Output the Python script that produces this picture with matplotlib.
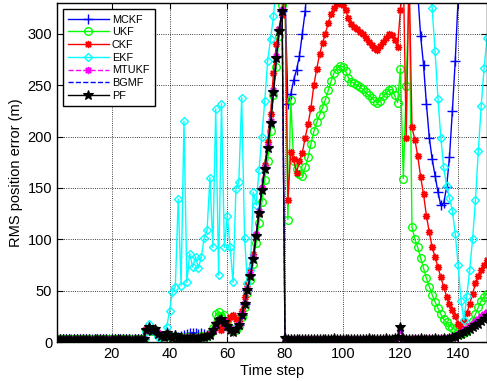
import matplotlib
matplotlib.use("Agg")
import matplotlib.pyplot as plt
import numpy as np

plt.rcParams['font.family'] = ['Liberation Sans', 'DejaVu Sans']

t = np.arange(1, 151)

mckf = [2.7, 2.9, 2.6, 3.0, 2.8, 2.5, 3.1, 2.7, 2.9, 2.6,
        3.0, 2.8, 2.6, 2.9, 2.7, 3.1, 2.5, 2.8, 3.0, 2.7,
        2.9, 2.6, 3.0, 2.8, 2.7, 2.9, 2.6, 3.0, 2.8, 2.7,
        3.0, 12.5, 14.0, 11.5, 12.0, 8.5, 6.0, 5.0, 9.5, 6.0,
        5.0, 7.0, 5.0, 6.0, 6.5, 8.0, 8.5, 9.0, 8.5, 8.0,
        8.5, 7.5, 7.0, 8.0, 12.0, 19.0, 22.0, 22.0, 19.0, 16.0,
        12.0, 10.5, 12.5, 17.0, 26.0, 37.0, 51.0, 65.0, 82.0, 104.0,
        127.0, 149.0, 169.0, 190.0, 214.0, 244.0, 277.0, 304.0, 322.0, 340.0,
        232.0, 241.0, 255.0, 265.0, 278.0, 300.0, 322.0, 360.0, 400.0, 430.0,
        450.0, 470.0, 480.0, 490.0, 500.0, 505.0, 510.0, 510.0, 505.0, 500.0,
        495.0, 490.0, 485.0, 480.0, 475.0, 470.0, 465.0, 460.0, 455.0, 450.0,
        445.0, 440.0, 435.0, 430.0, 425.0, 420.0, 415.0, 410.0, 405.0, 400.0,
        395.0, 390.0, 385.0, 375.0, 360.0, 340.0, 298.0, 270.0, 232.0, 199.0,
        178.0, 162.0, 146.0, 133.0, 135.0, 151.0, 180.0, 225.0, 274.0, 335.0,
        390.0, 440.0, 480.0, 510.0, 530.0, 540.0, 550.0, 560.0, 570.0, 580.0]

ukf = [2.6, 2.8, 3.0, 2.7, 2.9, 2.6, 2.8, 3.0, 2.7, 2.9,
       2.8, 2.6, 3.0, 2.7, 2.9, 2.8, 2.6, 3.0, 2.7, 2.8,
       2.9, 2.7, 2.6, 3.0, 2.8, 2.7, 2.9, 2.6, 3.0, 2.8,
       3.0, 12.0, 13.0, 11.0, 12.0, 8.0, 6.0, 5.0, 8.0, 5.5,
       4.5, 6.0, 4.0, 4.5, 3.5, 4.5, 3.5, 4.0, 4.0, 4.5,
       5.5, 5.0, 6.0, 8.0, 14.0, 27.0, 29.0, 25.0, 26.0, 20.0,
       14.0, 11.0, 12.0, 16.0, 24.0, 34.0, 48.0, 60.0, 76.0, 96.0,
       116.0, 136.0, 158.0, 176.0, 205.0, 240.0, 268.0, 298.0, 328.0, 345.0,
       119.0, 236.0, 176.0, 168.0, 164.0, 162.0, 170.0, 180.0, 193.0, 205.0,
       214.0, 221.0, 228.0, 236.0, 245.0, 254.0, 262.0, 266.0, 269.0, 268.0,
       264.0, 257.0, 253.0, 252.0, 250.0, 248.0, 246.0, 243.0, 240.0, 238.0,
       235.0, 233.0, 235.0, 239.0, 242.0, 245.0, 246.0, 240.0, 233.0, 266.0,
       159.0, 249.0, 350.0, 112.0, 100.0, 92.0, 82.0, 72.0, 62.0, 54.0,
       46.0, 39.0, 33.0, 27.0, 22.0, 19.0, 16.0, 14.0, 12.0, 10.0,
       8.0, 8.5, 11.0, 15.0, 20.0, 27.0, 34.0, 40.0, 44.0, 47.0]

ckf = [2.8, 2.6, 2.9, 3.0, 2.7, 2.8, 2.6, 2.9, 3.0, 2.7,
       2.6, 2.9, 2.8, 3.0, 2.6, 2.7, 2.9, 2.8, 2.6, 3.0,
       2.7, 2.8, 2.9, 2.6, 3.0, 2.8, 2.7, 2.9, 2.6, 2.8,
       3.2, 12.5, 14.0, 12.0, 12.5, 8.5, 6.5, 5.0, 9.0, 6.0,
       4.5, 6.0, 4.0, 4.5, 3.5, 4.5, 3.5, 4.5, 4.0, 4.5,
       5.0, 5.5, 6.5, 8.0, 12.0, 18.0, 20.0, 12.0, 16.0, 20.0,
       24.0, 26.0, 22.0, 20.0, 30.0, 44.0, 56.0, 70.0, 86.0, 104.0,
       126.0, 150.0, 172.0, 195.0, 222.0, 262.0, 290.0, 305.0, 318.0, 345.0,
       138.0, 185.0, 178.0, 165.0, 176.0, 184.0, 199.0, 212.0, 228.0, 250.0,
       266.0, 280.0, 291.0, 300.0, 311.0, 319.0, 325.0, 329.0, 330.0, 328.0,
       323.0, 315.0, 310.0, 307.0, 305.0, 302.0, 300.0, 296.0, 292.0, 289.0,
       286.0, 284.0, 288.0, 292.0, 296.0, 300.0, 299.0, 294.0, 287.0, 323.0,
       360.0, 199.0, 360.0, 209.0, 197.0, 181.0, 161.0, 144.0, 123.0, 107.0,
       92.0, 83.0, 73.0, 63.0, 54.0, 44.0, 37.0, 31.0, 25.0, 18.0,
       14.0, 20.0, 28.0, 37.0, 47.0, 57.0, 64.0, 70.0, 75.0, 80.0]

ekf = [2.2, 2.0, 2.4, 2.1, 2.3, 2.0, 2.2, 2.4, 2.1, 2.3,
       2.0, 2.2, 2.4, 2.1, 2.3, 2.2, 2.0, 2.4, 2.1, 2.2,
       2.3, 2.1, 2.0, 2.4, 2.2, 2.1, 2.3, 2.0, 2.4, 2.2,
       3.0, 10.0, 18.0, 12.0, 10.0, 5.0, 4.0, 6.0, 15.0, 30.0,
       49.0, 54.0, 139.0, 55.0, 215.0, 58.0, 86.0, 73.0, 83.0, 72.0,
       83.0, 101.0, 109.0, 160.0, 92.0, 227.0, 65.0, 232.0, 92.0, 123.0,
       92.0, 58.0, 149.0, 156.0, 238.0, 101.0, 57.0, 70.0, 146.0, 133.0,
       167.0, 200.0, 235.0, 274.0, 295.0, 317.0, 350.0, 400.0, 450.0, 500.0,
       520.0, 540.0, 550.0, 560.0, 570.0, 580.0, 590.0, 600.0, 600.0, 600.0,
       600.0, 600.0, 600.0, 600.0, 600.0, 600.0, 600.0, 600.0, 600.0, 600.0,
       600.0, 600.0, 600.0, 600.0, 600.0, 600.0, 600.0, 600.0, 600.0, 600.0,
       600.0, 600.0, 600.0, 600.0, 600.0, 600.0, 600.0, 590.0, 580.0, 560.0,
       540.0, 520.0, 500.0, 480.0, 460.0, 440.0, 420.0, 400.0, 380.0, 360.0,
       325.0, 283.0, 237.0, 199.0, 170.0, 152.0, 140.0, 128.0, 105.0, 75.0,
       40.0, 21.0, 45.0, 70.0, 100.0, 138.0, 186.0, 230.0, 267.0, 296.0]

mtukf = [2.6, 2.9, 2.7, 3.0, 2.5, 2.8, 3.1, 2.6, 2.9, 2.7,
         3.0, 2.6, 2.8, 2.9, 2.5, 3.1, 2.7, 2.6, 3.0, 2.8,
         2.7, 3.0, 2.6, 2.9, 2.8, 2.5, 3.0, 2.7, 2.8, 2.9,
         3.2, 11.5, 13.5, 12.0, 11.5, 9.0, 6.5, 5.0, 8.5, 6.0,
         4.5, 6.0, 4.0, 4.0, 3.5, 4.5, 3.0, 4.0, 3.5, 4.5,
         4.5, 5.0, 6.0, 7.5, 11.0, 17.0, 20.0, 21.0, 20.0, 15.0,
         13.0, 11.0, 13.0, 18.0, 27.0, 38.0, 52.0, 66.0, 83.0, 105.0,
         128.0, 150.0, 170.0, 191.0, 215.0, 245.0, 278.0, 305.0, 323.0, 4.0,
         3.0, 2.9, 3.1, 2.7, 3.2, 3.0, 2.8, 3.3, 2.9, 3.1,
         2.9, 3.2, 2.8, 3.1, 3.0, 3.3, 2.9, 3.2, 2.8, 3.0,
         3.1, 2.8, 3.2, 3.0, 3.3, 2.9, 3.1, 3.4, 3.0, 3.2,
         3.3, 3.0, 3.2, 3.4, 3.1, 3.3, 3.0, 3.5, 4.2, 12.0,
         3.8, 3.3, 3.1, 3.2, 3.5, 3.2, 3.4, 3.0, 3.2, 3.6,
         3.4, 3.7, 3.3, 3.6, 4.0, 3.7, 4.3, 5.0, 6.0, 7.5,
         9.5, 11.5, 13.5, 16.0, 18.0, 20.5, 22.5, 25.0, 27.0, 29.0]

bgmf = [2.7, 2.6, 3.0, 2.7, 2.8, 2.5, 3.0, 2.8, 2.6, 3.1,
        2.7, 2.8, 2.5, 3.0, 2.8, 2.6, 2.9, 2.7, 2.5, 3.0,
        3.0, 2.7, 2.7, 2.6, 2.9, 2.8, 2.5, 2.8, 3.0, 2.7,
        3.1, 12.0, 14.0, 11.5, 12.0, 8.5, 6.0, 4.8, 8.8, 5.8,
        4.2, 6.2, 3.8, 4.2, 3.2, 4.2, 3.2, 4.2, 3.2, 4.2,
        4.8, 4.8, 5.8, 7.2, 11.5, 17.5, 20.5, 21.5, 19.5, 15.5,
        12.5, 10.5, 12.8, 17.5, 26.5, 37.5, 51.5, 65.0, 82.0, 104.0,
        127.0, 149.0, 169.0, 190.0, 214.0, 244.0, 277.0, 304.0, 322.0, 3.8,
        2.9, 3.0, 2.8, 2.9, 3.0, 3.1, 2.9, 2.9, 3.0, 2.9,
        3.1, 2.9, 2.9, 2.8, 3.1, 3.1, 3.2, 3.0, 2.9, 2.8,
        3.2, 2.9, 2.9, 3.2, 3.1, 3.0, 2.9, 3.3, 3.3, 3.0,
        3.1, 3.2, 3.0, 3.2, 3.3, 3.1, 3.1, 3.5, 4.3, 13.5,
        3.9, 3.2, 3.2, 3.0, 3.4, 3.1, 3.5, 3.1, 3.0, 3.5,
        3.2, 3.6, 3.1, 3.4, 3.9, 3.5, 4.1, 4.8, 5.6, 7.0,
        8.8, 10.5, 12.2, 14.5, 16.2, 18.5, 20.2, 22.5, 24.8, 27.0]

pf = [2.8, 2.5, 3.1, 2.6, 2.9, 2.4, 3.0, 2.7, 2.5, 3.2,
      2.6, 2.9, 2.4, 3.1, 2.7, 2.5, 3.0, 2.8, 2.4, 2.9,
      3.1, 2.6, 2.8, 2.5, 3.0, 2.7, 2.4, 2.9, 3.1, 2.6,
      3.0, 12.0, 14.5, 11.0, 12.5, 8.0, 6.0, 4.5, 9.0, 5.5,
      4.0, 6.5, 3.5, 4.5, 3.0, 4.0, 3.5, 4.5, 3.0, 4.0,
      5.0, 4.5, 5.5, 7.0, 12.0, 18.0, 21.0, 22.0, 19.0, 16.0,
      12.0, 10.0, 12.5, 17.0, 26.0, 37.0, 51.0, 64.0, 81.0, 103.0,
      126.0, 148.0, 168.0, 189.0, 213.0, 243.0, 276.0, 303.0, 322.0, 3.5,
      2.8, 3.2, 2.6, 3.0, 2.7, 3.3, 2.9, 2.5, 3.1, 2.8,
      3.4, 2.7, 3.0, 2.6, 3.2, 2.9, 3.5, 2.8, 3.1, 2.7,
      3.3, 3.0, 2.6, 3.4, 2.9, 3.1, 2.7, 3.2, 3.6, 2.9,
      3.0, 3.4, 2.8, 3.1, 3.5, 2.9, 3.2, 3.6, 4.5, 15.0,
      4.0, 3.1, 3.4, 2.9, 3.3, 3.0, 3.6, 3.2, 2.8, 3.4,
      3.1, 3.5, 3.0, 3.3, 3.8, 3.4, 4.0, 4.6, 5.2, 6.5,
      8.0, 9.5, 11.0, 13.0, 14.5, 16.5, 18.0, 20.0, 22.5, 25.0]

fig = plt.figure(figsize=(4.87, 3.81), dpi=100)
ax = fig.add_axes([57 / 487, 1 - 342 / 381, 430 / 487, 339 / 381])

ms = 5.2
ax.plot(t, mckf, color='#0000FF', lw=1.0, marker='+', ms=ms + 1.5, mew=1.0, label='MCKF')
ax.plot(t, ukf, color='#00FF00', lw=1.0, marker='o', ms=ms + 0.3, mfc='none', mew=1.0, label='UKF')
ax.plot(t, ckf, color='#FF0000', lw=1.0, marker=(8, 2, 0), ms=ms, mew=1.0, label='CKF')
ax.plot(t, ekf, color='#00FFFF', lw=1.0, marker='D', ms=ms - 0.8, mfc='none', mew=1.0, label='EKF')
ax.plot(t, mtukf, color='#FF00FF', lw=1.0, ls='--', marker=(8, 2, 0), ms=ms, mew=1.0, label='MTUKF')
ax.plot(t, bgmf, color='#0000FF', lw=1.0, ls='--', label='BGMF')
ax.plot(t, pf, color='black', lw=1.0, marker='*', ms=ms + 2, mfc='black', mew=0.8, label='PF')

ax.set_xlim(1, 150)
ax.set_ylim(0, 330)
ax.set_xticks([20, 40, 60, 80, 100, 120, 140])
ax.set_yticks([0, 50, 100, 150, 200, 250, 300])
ax.tick_params(direction='in', top=True, right=True, length=4, width=0.8, labelsize=10.5)
ax.grid(True, ls=':', color='black', lw=0.6)
for s in ax.spines.values():
    s.set_linewidth(1.0)

ax.set_xlabel('Time step', fontsize=10.5, labelpad=2)
ax.set_ylabel('RMS position error (m)', fontsize=10.5, labelpad=3)

leg = ax.legend(loc='upper left', bbox_to_anchor=(0.014, 0.982), borderaxespad=0,
                fontsize=7.8, handlelength=3.7, labelspacing=0.25, handletextpad=0.3,
                borderpad=0.5, fancybox=False, framealpha=1, edgecolor='black')
leg.get_frame().set_linewidth(1.0)

fig.savefig('out.png', dpi=100)
